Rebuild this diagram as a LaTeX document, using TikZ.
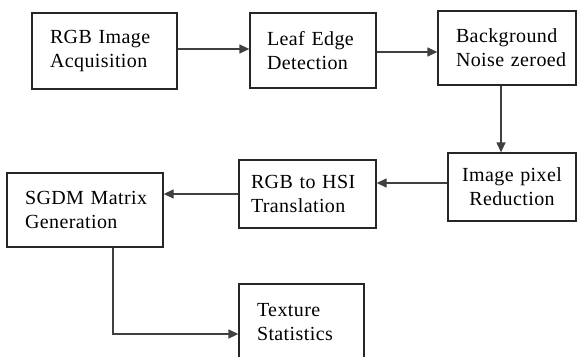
\documentclass[tikz,border=0pt]{standalone}
\usepackage{fontspec}
\setmainfont{Liberation Serif}[LetterSpace=2.0]
\usetikzlibrary{arrows.meta,calc}
\hyphenpenalty=10000
\exhyphenpenalty=10000
\tikzset{
  box/.style={draw=black!85, line width=1.3pt, fill=white, align=left,
    font=\fontsize{20}{24}\selectfont, inner ysep=0pt},
  conn/.style={draw=black!75, line width=1.3pt, -{Triangle[length=10pt,width=9pt]}}
}
\begin{document}
\begin{tikzpicture}[x=1pt,y=-1pt]
\fill[white] (0,0) rectangle (577,356);
\useasboundingbox (0,0) rectangle (577,356);
\clip (0,0) rectangle (577,356);
\node[box, inner xsep=18pt, text width=109pt, minimum height=76pt] (b1) at (104.5,51) {RGB~Image\\Acquisition};
\node[box, inner xsep=17pt, text width=92pt, minimum height=75pt] (b2) at (313,50.5) {Leaf~Edge\\Detection};
\node[box, inner xsep=18pt, text width=102pt, minimum height=74pt] (b3) at (507,48) {Background\\Noise~zeroed};
\node[box, align=center, inner xsep=10pt, text width=108pt, minimum height=68pt] (b4) at (512,187) {Image~pixel\\Reduction};
\node[box, inner xsep=12pt, text width=113pt, minimum height=68pt] (b5) at (307.5,194) {RGB~to~HSI\\Translation};
\node[box, inner xsep=18pt, text width=120pt, minimum height=74pt] (b6) at (85,210) {SGDM~Matrix\\Generation};
\node[box, inner xsep=18pt, text width=89pt, minimum height=76pt] (b7) at (301.5,322) {Texture\\Statistics};
\coordinate (elbow) at (113,334);
\coordinate (a3s) at ($(b3.south)+(-6,0)$);
\draw[conn] ([yshift=2pt]b1.east) -- ([yshift=2pt]b1.east -| b2.west);
\draw[conn] ([yshift=-1.5pt]b2.east) -- ([yshift=-1.5pt]b2.east -| b3.west);
\draw[conn] (a3s) -- (a3s |- b4.north);
\draw[conn] ([yshift=4pt]b4.west) -- ([yshift=4pt]b4.west -| b5.east);
\draw[conn] (b5.west) -- (b5.west -| b6.east);
\draw[conn] (b6.south -| elbow) -- (elbow) -- (elbow -| b7.west);
\end{tikzpicture}
\end{document}
